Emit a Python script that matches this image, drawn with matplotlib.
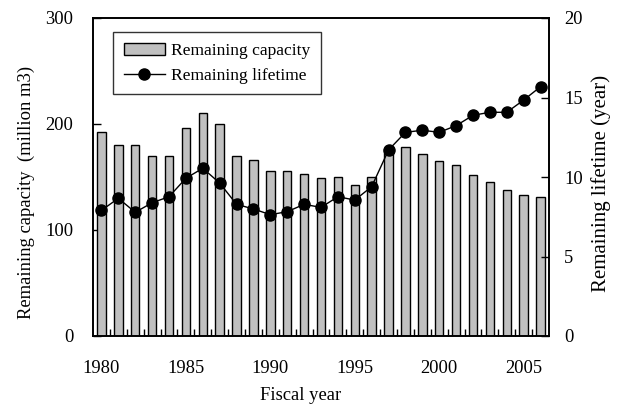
import numpy as np
import matplotlib
matplotlib.use("Agg")
import matplotlib.pyplot as plt

years = list(range(1980, 2007))
capacity = [192, 180, 180, 170, 170, 196, 210, 200, 170, 166, 156, 156, 153, 149,
            150, 142, 150, 176, 178, 172, 165, 161, 152, 145, 138, 133, 131]
lifetime = [7.9, 8.66, 7.78, 8.38, 8.76, 9.92, 10.55, 9.62, 8.28, 7.99, 7.63, 7.82,
            8.28, 8.09, 8.76, 8.55, 9.39, 11.7, 12.81, 12.94, 12.81, 13.23, 13.88,
            14.07, 14.07, 14.84, 15.68]
year_labels = [1980, 1985, 1990, 1995, 2000, 2005]

plt.rcParams['font.family'] = ['Liberation Serif', 'DejaVu Serif']
plt.rcParams['font.size'] = 12.6

W, H = 621, 405
fig = plt.figure(figsize=(W / 100, H / 100), dpi=100)
ax = fig.add_axes([93 / W, 1 - 336 / H, 456 / W, 318 / H])
ax2 = ax.twinx()

bars = ax.bar(years, capacity, width=0.5, color="#c0c0c0", edgecolor="black",
              linewidth=1, zorder=2)
line, = ax2.plot(years, lifetime, color="black", linewidth=1, marker="o",
                 markersize=8, zorder=3)

ax.set_xlim(1979.5, 2006.5)
ax.set_ylim(0, 300)
ax2.set_ylim(0, 20)
ax.set_yticks([0, 100, 200, 300])
ax2.set_yticks([0, 5, 10, 15, 20])

# category style axis: labels on years, tick marks between bars
ax.set_xticks(year_labels)
ax.set_xticks(np.arange(1980.5, 2006.5, 1), minor=True)
ax.tick_params(axis="x", which="major", length=0, pad=17.5, labelsize=13.3)
ax.tick_params(axis="x", which="minor", direction="in", length=5, width=1)
ax.tick_params(axis="y", direction="in", length=6, width=1, pad=14, labelsize=13.3)
ax2.tick_params(axis="y", direction="in", length=6, width=1, pad=11, labelsize=13.3)

for sp in list(ax.spines.values()) + list(ax2.spines.values()):
    sp.set_linewidth(1.2)

# axis titles placed like the original
fig.text(301 / W, 1 - 395 / H, "Fiscal year", ha="center", va="center", fontsize=13.4)
fig.text(26 / W, 1 - 192 / H, "Remaining capacity  (million m3)", rotation=90,
         ha="center", va="center", fontsize=13.4)
fig.text(601 / W, 1 - 183 / H, "Remaining lifetime (year)", rotation=90,
         ha="center", va="center", fontsize=15)

leg = ax2.legend([bars, line], ["Remaining capacity", "Remaining lifetime"],
                 loc="upper left", bbox_to_anchor=(20 / 456, 1 - 14 / 318),
                 frameon=True, fancybox=False, edgecolor="black",
                 handlelength=2.35, borderpad=0.6, labelspacing=0.5,
                 handletextpad=0.35, borderaxespad=0)
leg.get_frame().set_linewidth(1)

fig.savefig("out.png", dpi=100)
